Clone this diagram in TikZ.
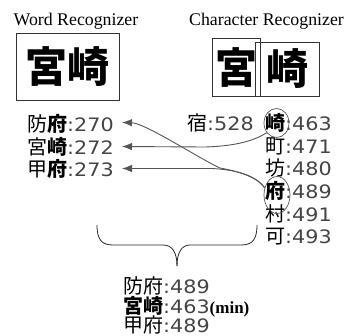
\documentclass[tikz,border=0pt]{standalone}
\usepackage{fontspec}
\usepackage{graphicx}
\setmainfont{Liberation Serif}
\newfontfamily\jp{Noto Sans CJK JP}
\newfontfamily\dv{DejaVu Sans}
\usetikzlibrary{arrows.meta,shapes.geometric}
\definecolor{lc}{HTML}{555555}
\definecolor{dg}{HTML}{444444}
\newcommand{\lstfont}{\jp\fontsize{20bp}{22bp}\selectfont}
\newcommand{\mynum}[1]{{\dv\fontsize{18.5bp}{22bp}\selectfont\color{dg}\scalebox{1.12}[1]{#1}}}
\begin{document}
\begin{tikzpicture}[x=1bp,y=-1bp,
  title/.style={font=\fontsize{17.8bp}{20bp}\selectfont, inner sep=0, anchor=base},
  item/.style={font=\lstfont, inner sep=0, anchor=base west},
  imgbox/.style={draw=black!80, line width=0.8bp, inner sep=0,
    font=\jp\bfseries\fontsize{42bp}{44bp}\selectfont},
  ring/.style={draw=lc, ellipse, line width=0.7bp, inner sep=0},
  conn/.style={draw=lc, line width=0.9bp, -{Latex[length=10bp,width=7.5bp]}},
  bracel/.style={draw=black!85, line width=0.8bp},
]
\useasboundingbox (0,0) rectangle (348,336);
% titles
\node[title] (wt) at (76,25) {Word Recognizer};
\node[title] (ct) at (266.5,25) {Character Recognizer};
% handwritten images
\node[imgbox, minimum width=103bp, minimum height=67bp] (wb) at (67.5,66.5) {宮崎};
\node[imgbox, minimum width=48bp, minimum height=58bp] (c1) at (236,67) {宮};
\node[imgbox, minimum width=64bp, minimum height=54bp] (c2) at (287,69) {崎};
% left list
\node[item] (l1) at (27,131.6) {防{\bfseries 府}\mynum{:270}};
\node[item] (l2) at (27,154.1) {宮{\bfseries 崎}\mynum{:272}};
\node[item] (l3) at (27,176.6) {甲{\bfseries 府}\mynum{:273}};
\coordinate (t1) at (122,122.5);
\coordinate (t2) at (122,146.5);
\coordinate (t3) at (122,168.5);
% right list
\node[item] (r0) at (187,130.6) {宿\mynum{:528}};
\node[item] (r1) at (265,130.6) {{\bfseries 崎}\mynum{:463}};
\node[item] (r2) at (265,153.2) {町\mynum{:471}};
\node[item] (r3) at (265,175.8) {坊\mynum{:480}};
\node[item] (r4) at (265,198.4) {{\bfseries 府}\mynum{:489}};
\node[item] (r5) at (265,221) {村\mynum{:491}};
\node[item] (r6) at (265,243.6) {可\mynum{:493}};
\node[ring, minimum width=25bp, minimum height=29bp] (zaki) at (276.5,123) {};
\node[ring, minimum width=26bp, minimum height=37bp] (fu) at (277,195) {};
% connectors
\draw[conn] (fu.150) .. controls (258,178) and (242,172) .. (220,168)
  .. controls (200,159) and (145,123) .. (t1);
\draw[conn] (fu.150) .. controls (258,178) and (242,170) .. (212,168.5) -- (t3);
\draw[conn] (zaki.225) .. controls (255,140) and (238,146) .. (205,147) -- (t2);
% brace
\draw[bracel] (97,225) .. controls (97,240) and (102,245) .. (113,245) -- (163,245)
  .. controls (172,245) and (177,252) .. (177,266);
\draw[bracel] (257,225) .. controls (257,240) and (252,245) .. (241,245) -- (190,245)
  .. controls (182,245) and (177,252) .. (177,266);
% result
\node[item] (b1) at (123,293.5) {防府\mynum{:489}};
\node[item] (b2) at (123,313.5) {{\bfseries 宮崎}\mynum{:463}{\rmfamily\bfseries\fontsize{17bp}{18bp}\selectfont (min)}};
\node[item] (b3) at (123,332.6) {甲府\mynum{:489}};
\end{tikzpicture}
\end{document}
